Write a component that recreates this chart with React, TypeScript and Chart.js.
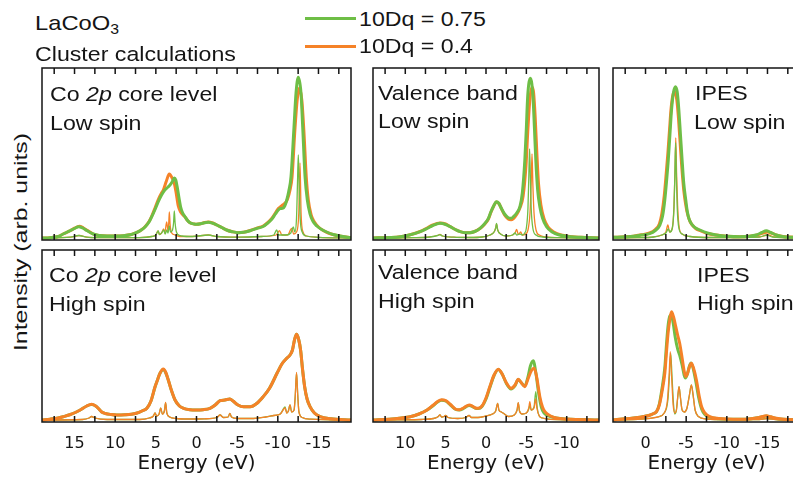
import React, { useEffect, useRef } from 'react';
import { Chart, registerables } from 'chart.js';

Chart.register(...registerables);

type Pt = [number, number];

const GREEN = '#6ebe46';
const ORANGE = '#f58228';
const INK = '#151515';

const legendLabels = ['10Dq = 0.75', '10Dq = 0.4'];
const axisTitle = 'Energy (eV)';
const yTitle = 'Intensity (arb. units)';

// ---------- Co 2p core level, low spin ----------
const coreLowGreenBroad: Pt[] = [[19,0],[18,0.3],[17,1.5],[16.4,4],[15.5,7.5],[15,9.5],[14.5,11.3],[14,10],[13.5,7.5],[12.7,4],[12,2.5],[11,2],[10,2],[9,2.3],[8,3.5],[7.4,5.3],[6.8,8],[6.3,11.3],[5.8,16.5],[5.5,21.3],[5.1,28.5],[4.7,36.3],[4.3,43],[3.9,48],[3.5,51],[3.26,53],[3.0,56],[2.73,60],[2.55,58],[2.35,50],[2.15,40],[1.95,31],[1.7,25],[1.41,21.3],[1.1,17.5],[0.8,15.3],[0.3,14],[0,13.7],[-0.5,14.2],[-1.0,15.3],[-1.45,15.7],[-2.0,14.7],[-2.5,13],[-3.1,10.5],[-3.7,8],[-4.4,6.3],[-5.1,5.3],[-5.8,5.7],[-6.6,7.3],[-7.4,9.5],[-8.2,11.5],[-8.7,14.5],[-9.25,18.7],[-9.7,24],[-10.06,28],[-10.3,29.5],[-10.6,29.7],[-10.85,32],[-11.1,38],[-11.35,47],[-11.62,61],[-11.99,111],[-12.24,145],[-12.52,160.7],[-12.85,145],[-13.06,111],[-13.35,61],[-13.63,38],[-13.96,24],[-14.3,17],[-14.8,12],[-15.4,8.5],[-16.0,6],[-16.8,3.5],[-17.65,2],[-19,0.3]];
const coreLowOrangeBroad: Pt[] = [[19,0],[18,0.3],[17,1.5],[16.4,4],[15.5,7.5],[15,9.8],[14.4,11.8],[13.9,10],[13.4,7.5],[12.7,4],[12,2.5],[11,2],[10,2],[9,2.3],[8,3.5],[7.4,5.3],[6.8,8],[6.3,11.5],[5.8,17],[5.5,22],[5.1,30],[4.7,38.5],[4.3,45],[4.08,48],[3.7,57],[3.34,64],[3.0,60],[2.73,54.7],[2.5,45],[2.24,32],[1.95,26],[1.41,21],[1.1,17.5],[0.8,15.3],[0.3,14],[0,13.7],[-0.5,14.2],[-1.0,15.5],[-1.45,16],[-2.0,15],[-2.5,13],[-3.1,10.5],[-3.7,8],[-4.4,6.3],[-5.1,5.3],[-5.8,5.7],[-6.6,7.5],[-7.4,9.8],[-8.2,12],[-8.7,15],[-9.25,19.5],[-9.7,25],[-10.06,29.5],[-10.3,31],[-10.6,33],[-10.9,35],[-11.2,39],[-11.5,48],[-11.75,61],[-12.1,108],[-12.38,138],[-12.65,150],[-12.95,138],[-13.2,108],[-13.5,61],[-13.75,38],[-14.1,23],[-14.5,16],[-15.0,11],[-15.6,7.5],[-16.2,5],[-17,3],[-17.8,1.8],[-19,0.3]];
const coreLowGreenSharp: Pt[] = [[19,0],[15.5,0.8],[14.5,2.5],[13.5,0.8],[12,0.3],[7,0.4],[5.5,1.5],[5.0,3],[4.7,7],[4.55,3.5],[4.3,5],[4.0,8],[3.85,4],[3.65,8],[3.5,5],[3.34,12],[3.2,6],[2.95,8],[2.82,15],[2.73,27],[2.63,15],[2.5,7],[2.3,3.5],[1.8,2],[0.5,1.5],[-1.45,3],[-2.5,1.5],[-5,0.8],[-8,1.5],[-9.5,3],[-9.86,8],[-10.1,3],[-11,3],[-11.6,5],[-11.9,11],[-12.1,6],[-12.3,20],[-12.42,55],[-12.52,83],[-12.62,55],[-12.75,20],[-13,6],[-13.5,2],[-15,0.7],[-19,0]];
const coreLowOrangeSharp: Pt[] = [[19,0],[15.5,0.8],[14.4,2.5],[13.5,0.8],[12,0.3],[7,0.4],[5.5,1.5],[5.0,3],[4.75,7],[4.55,3.5],[4.3,5],[4.05,9],[3.9,5],[3.67,16],[3.5,7],[3.42,14],[3.34,26],[3.25,14],[3.1,6],[2.8,3.5],[2.3,2],[1.8,1.5],[0.5,1.5],[-1.45,3],[-2.5,1.5],[-5,0.8],[-8,1.5],[-9.8,3],[-10.2,7.3],[-10.5,3],[-11.2,3],[-11.7,9.7],[-11.95,4],[-12.3,6],[-12.58,25],[-12.73,75],[-12.86,25],[-13.1,6],[-13.5,2],[-15,0.7],[-19,0]];

// ---------- Valence band, low spin ----------
const valLowGreenBroad: Pt[] = [[14,0],[12,0.5],[10.6,1.3],[9.5,3],[8.15,6.3],[7.3,9.5],[6.6,12.5],[5.7,14.7],[5,13.5],[4.44,11.3],[3.8,8.5],[3.2,6.3],[2.6,5.3],[2,5.3],[1.4,6.5],[0.74,9.7],[0.2,14],[-0.3,19.7],[-0.6,26],[-0.9,31.3],[-1.3,36.3],[-1.6,34.5],[-1.9,29.7],[-2.3,24],[-2.75,20.3],[-3.1,19.7],[-3.4,21.3],[-3.8,25],[-4.2,31.3],[-4.5,45],[-4.81,78],[-5.0,110],[-5.14,138],[-5.3,154],[-5.5,159.7],[-5.68,154],[-5.84,138],[-6.0,110],[-6.17,78],[-6.4,48],[-6.67,31.3],[-7.0,20],[-7.5,11.3],[-8.2,6],[-9.1,3],[-10.5,1.2],[-11.6,0.7],[-14,0]];
const valLowOrangeBroad: Pt[] = [[14,0],[12,0.5],[10.6,1.3],[9.5,3],[8.15,6.5],[7.3,10],[6.6,13],[5.7,15],[5,14],[4.44,11.5],[3.8,8.5],[3.2,6.3],[2.6,5.3],[2,5.3],[1.4,6.5],[0.74,9.5],[0.2,13.5],[-0.3,19],[-0.6,25.5],[-0.9,31],[-1.3,36],[-1.6,34.5],[-1.9,29.5],[-2.3,23],[-2.75,19],[-3.1,18.3],[-3.4,19.5],[-3.8,23.5],[-4.2,30],[-4.6,42],[-4.95,72],[-5.2,110],[-5.45,140],[-5.7,151],[-5.9,145],[-6.1,120],[-6.3,85],[-6.5,55],[-6.8,33],[-7.2,19],[-7.7,11],[-8.4,6],[-9.3,3],[-10.7,1.2],[-11.8,0.7],[-14,0]];
const valLowGreenSharp: Pt[] = [[14,0],[9,0.3],[7,1],[6,2.5],[5.7,3.3],[5.4,2],[4,0.8],[2,0.5],[0.5,1],[-0.5,3],[-1.0,6],[-1.2,10],[-1.3,14.7],[-1.45,8],[-1.8,4],[-2.5,2],[-3.3,3],[-3.6,5],[-3.8,3],[-4.2,4],[-4.5,3],[-4.8,5],[-5.0,10],[-5.2,30],[-5.3,60],[-5.4,89],[-5.5,60],[-5.6,30],[-5.8,10],[-6.2,3],[-7,1],[-9,0.3],[-14,0]];
const valLowOrangeSharp: Pt[] = [[14,0],[9,0.3],[7,1],[6,2.5],[5.7,3.5],[5.4,2],[4,0.8],[2,0.5],[0.5,1],[-0.5,3],[-1.0,6],[-1.2,10],[-1.3,14],[-1.45,8],[-1.8,4],[-2.5,2],[-3.3,3],[-3.6,5],[-3.8,8.7],[-4.0,3.5],[-4.3,6],[-4.5,3],[-4.9,4],[-5.2,8],[-5.45,25],[-5.6,55],[-5.7,84],[-5.8,55],[-5.95,25],[-6.2,8],[-6.6,3],[-7.5,1],[-9,0.3],[-14,0]];

// ---------- IPES, low spin ----------
const ipesLowGreenBroad: Pt[] = [[4,0.7],[2.5,1.2],[1.5,1.7],[0.5,3],[-0.5,4.3],[-1.2,7.5],[-1.75,12.7],[-2.1,22],[-2.37,38],[-2.6,58],[-2.8,78],[-3.0,103],[-3.2,128],[-3.45,146],[-3.68,151.3],[-3.9,146],[-4.1,128],[-4.3,103],[-4.5,78],[-4.7,55],[-4.95,38],[-5.15,26],[-5.4,18],[-6,11],[-6.7,8],[-7.6,5],[-8.7,3],[-10,1.8],[-11.6,1.3],[-12.8,1.8],[-13.6,3],[-14.3,5.5],[-14.85,7.3],[-15.4,5.5],[-16.1,3],[-17,1.3],[-18.1,0.7],[-19,0.5]];
const ipesLowOrangeBroad: Pt[] = [[4,0.7],[2.5,1.2],[1.5,1.8],[0.5,3.2],[-0.5,5],[-1.2,8.5],[-1.7,14],[-2.0,24],[-2.3,42],[-2.55,65],[-2.75,85],[-2.95,108],[-3.15,130],[-3.4,144],[-3.6,146],[-3.85,138],[-4.05,120],[-4.25,96],[-4.45,72],[-4.7,48],[-4.95,33],[-5.2,23],[-5.5,16],[-6.1,10],[-6.8,7],[-7.6,4.5],[-8.7,3],[-10,1.8],[-11.6,1.3],[-12.8,1.8],[-13.7,3],[-14.5,5],[-15.0,6],[-15.6,4.5],[-16.3,2.5],[-17.2,1.2],[-19,0.5]];
const ipesLowGreenSharp: Pt[] = [[4,0],[1,0.3],[-1,1],[-2,3],[-2.5,5],[-2.8,9],[-3.0,6],[-3.3,10],[-3.5,30],[-3.6,60],[-3.7,95],[-3.8,60],[-3.9,30],[-4.1,10],[-4.5,4],[-5.5,1.5],[-8,0.5],[-14,1],[-14.9,3],[-15.6,1],[-19,0]];
const ipesLowOrangeSharp: Pt[] = [[4,0],[1,0.3],[-1,1],[-2,3],[-2.5,6],[-2.75,13],[-2.95,6],[-3.3,10],[-3.5,32],[-3.62,65],[-3.72,100],[-3.82,65],[-3.95,32],[-4.15,10],[-4.5,4],[-5.5,1.5],[-8,0.5],[-14,1],[-15.1,3],[-15.8,1],[-19,0]];

// ---------- Co 2p core level, high spin ----------
const coreHighOrangeBroad: Pt[] = [[19,0],[18,0.8],[17,2],[16.4,3.3],[15.5,5.5],[14.9,7.5],[14.3,10],[13.5,14],[12.9,15.7],[12.4,14],[12,11],[11.7,8.3],[11.2,6.5],[10.5,5.5],[9.8,5],[8.8,5.2],[8,5.7],[7.4,6.7],[6.7,9],[6.1,11.7],[5.6,19],[5.1,33.3],[4.8,40],[4.5,46.7],[4.08,51],[3.8,48],[3.47,40],[3.1,30],[2.64,20],[2.1,14],[1.6,11.7],[0.8,10.3],[0,10],[-0.8,10.3],[-1.66,11.7],[-2.3,15],[-2.9,19.3],[-3.5,20],[-4.1,21],[-4.5,19],[-5.1,15],[-5.8,13.3],[-6.6,13.3],[-7.4,16.5],[-8.2,23.3],[-9.0,32],[-9.9,46.7],[-10.5,56],[-11.1,61.7],[-11.5,65],[-11.8,70],[-12.05,80],[-12.3,85.7],[-12.55,81],[-12.8,70],[-13.05,50],[-13.3,33.3],[-13.6,21],[-13.96,13.3],[-14.5,7],[-15.2,3.3],[-16.5,1.3],[-19,0]];
const coreHighGreenBroad: Pt[] = [[19,0],[18,0.8],[17,2],[16.4,3.3],[15.5,5.5],[14.9,7.5],[14.3,10],[13.5,14],[12.9,15.5],[12.4,14],[12,11],[11.7,8.3],[11.2,6.5],[10.5,5.5],[9.8,5],[8.8,5.2],[8,5.7],[7.4,6.7],[6.7,9],[6.1,11.7],[5.6,19],[5.1,33],[4.8,40],[4.5,46.5],[4.08,50.5],[3.8,47.5],[3.47,40],[3.1,30],[2.64,20],[2.1,14],[1.6,11.7],[0.8,10.3],[0,10],[-0.8,10.3],[-1.66,11.7],[-2.3,15],[-2.9,19.3],[-3.5,20],[-4.1,21],[-4.5,19],[-5.1,15],[-5.8,13.3],[-6.6,13.3],[-7.4,16.5],[-8.2,23.3],[-9.0,32],[-9.9,46.7],[-10.5,56],[-11.1,61.7],[-11.5,65],[-11.8,70],[-12.05,80],[-12.3,85.7],[-12.55,81],[-12.8,70],[-13.05,50],[-13.3,33.3],[-13.6,21],[-13.96,13.3],[-14.5,7],[-15.2,3.3],[-16.5,1.3],[-19,0]];
const coreHighOrangeSharp: Pt[] = [[19,0],[14,0.5],[13.2,2],[12.9,3.5],[12.5,2],[11,0.5],[7,0.5],[5.8,2],[5.3,4],[5.1,7],[4.9,4],[4.6,6],[4.4,12],[4.2,6],[3.95,9],[3.8,17.5],[3.65,7],[3.3,3],[2.5,1.5],[1,1],[-1,1.2],[-2.5,2.5],[-2.9,5],[-3.3,2.5],[-3.9,3],[-4.1,6.7],[-4.3,3],[-5,1.5],[-7,1.5],[-8.5,3],[-9.5,4.5],[-10.3,6],[-10.9,12],[-11.1,7],[-11.3,9],[-11.5,15],[-11.7,8],[-12.0,10],[-12.15,25],[-12.3,47.7],[-12.45,25],[-12.6,8],[-13,2.5],[-14,0.8],[-19,0]];
const coreHighGreenSharp: Pt[] = [[19,0],[14,0.5],[13.2,2],[12.9,3.5],[12.5,2],[11,0.5],[7,0.5],[5.8,2],[5.3,4],[5.1,7],[4.9,4],[4.6,6],[4.4,12],[4.2,6],[3.95,9],[3.8,17],[3.65,7],[3.3,3],[2.5,1.5],[1,1],[-1,1.2],[-2.5,2.5],[-2.9,5],[-3.3,2.5],[-3.9,3],[-4.1,6.7],[-4.3,3],[-5,1.5],[-7,1.5],[-8.5,3],[-9.5,4.5],[-10.3,6],[-10.9,13],[-11.1,7],[-11.3,9],[-11.5,15],[-11.7,8],[-12.0,10],[-12.15,25],[-12.3,47],[-12.45,25],[-12.6,8],[-13,2.5],[-14,0.8],[-19,0]];

// ---------- Valence band, high spin ----------
const valHighOrangeBroad: Pt[] = [[14,0],[12,0.8],[10.5,2],[9.4,3.3],[8.3,6],[7.3,10],[6.6,14.5],[6.0,18.5],[5.5,20.3],[5.0,19.5],[4.4,15.5],[3.8,11],[3.3,10.3],[2.8,12],[2.3,14.5],[2.06,15],[1.7,14],[1.3,12],[0.95,11.7],[0.5,14],[0.0,22],[-0.5,34],[-1.0,45],[-1.52,50.7],[-2.0,46],[-2.5,37.5],[-3.1,31.7],[-3.6,35],[-4.0,40.7],[-4.4,37],[-4.8,33.3],[-5.2,41],[-5.6,49],[-5.97,51.7],[-6.3,42],[-6.67,23.3],[-7.0,13],[-7.3,8.3],[-8,4],[-8.7,2],[-10,1],[-14,0]];
const valHighGreenBroad: Pt[] = [[14,0],[12,0.8],[10.5,2],[9.4,3.3],[8.3,6],[7.3,10],[6.6,14],[6.0,18],[5.5,19.8],[5.0,19],[4.4,15],[3.8,10.8],[3.3,10],[2.8,11.5],[2.3,14],[2.06,14.5],[1.7,13.5],[1.3,11.8],[0.95,11.5],[0.5,13.5],[0.0,21],[-0.5,33],[-1.0,44.5],[-1.52,50.5],[-2.0,46],[-2.5,37],[-3.1,31],[-3.6,34.5],[-4.0,40.5],[-4.4,37],[-4.8,34],[-5.2,43],[-5.5,54],[-5.85,59.3],[-6.2,46],[-6.5,28],[-6.85,13],[-7.2,7],[-8,3.5],[-8.7,2],[-10,1],[-14,0]];
const valHighOrangeSharp: Pt[] = [[14,0],[8,0.5],[6.5,1.5],[6.0,3],[5.7,5],[5.5,3],[5.2,3.5],[5.0,4.5],[4.7,2.5],[3.5,1.5],[2.5,2.5],[2.1,4.5],[1.8,2.5],[1.0,2.5],[0,4],[-0.8,6],[-1.2,9],[-1.44,16.7],[-1.6,10],[-1.9,8],[-2.2,6.5],[-2.8,3.5],[-3.5,5],[-3.85,10],[-4.0,17.3],[-4.15,9],[-4.5,6],[-5.0,7],[-5.3,12],[-5.43,18.3],[-5.6,10],[-5.95,12],[-6.15,21],[-6.3,12],[-6.6,4],[-7,2],[-8,0.7],[-14,0]];
const valHighGreenSharp: Pt[] = [[14,0],[8,0.5],[6.5,1.5],[6.0,3],[5.7,5],[5.5,3],[5.2,3.5],[5.0,4.5],[4.7,2.5],[3.5,1.5],[2.5,2.5],[2.1,4.5],[1.8,2.5],[1.0,2.5],[0,4],[-0.8,6],[-1.2,9],[-1.44,16.7],[-1.6,10],[-1.9,8],[-2.2,6.5],[-2.8,3.5],[-3.5,5],[-3.85,10],[-4.0,17],[-4.15,9],[-4.5,6],[-5.0,7],[-5.3,11],[-5.43,15],[-5.6,10],[-5.95,13],[-6.17,28.3],[-6.35,12],[-6.6,4],[-7,2],[-8,0.7],[-14,0]];

// ---------- IPES, high spin ----------
const ipesHighOrangeBroad: Pt[] = [[4,0],[2.5,1.2],[0.7,2.7],[-0.4,4.5],[-1.0,6.5],[-1.35,8.3],[-1.7,15],[-2.0,27],[-2.37,46.7],[-2.6,70],[-2.77,86.7],[-3.0,101],[-3.19,108.3],[-3.45,103],[-3.72,93.3],[-3.95,85],[-4.2,76.7],[-4.5,62],[-4.75,49],[-4.95,43.3],[-5.15,46],[-5.4,53],[-5.64,56.7],[-5.9,52],[-6.26,40],[-6.6,24],[-6.9,13.3],[-7.3,7],[-7.9,3.3],[-9,1.5],[-11.6,0.7],[-13,1.3],[-13.8,2.3],[-14.4,3.5],[-14.85,4.3],[-15.4,3.2],[-16.1,1.7],[-17,0.7],[-19,0]];
const ipesHighGreenBroad: Pt[] = [[4,0],[2.5,1.2],[0.7,2.7],[-0.4,4.5],[-1.0,6.5],[-1.35,8.3],[-1.7,16],[-2.0,30],[-2.37,52],[-2.6,78],[-2.8,96],[-3.0,104],[-3.17,105],[-3.4,97],[-3.65,83],[-3.95,71],[-4.2,65],[-4.5,55],[-4.75,45],[-4.9,42],[-5.15,46],[-5.4,54],[-5.6,57],[-5.85,52],[-6.2,38],[-6.55,22],[-6.9,11],[-7.3,5.5],[-7.9,2.8],[-9,1.3],[-11.6,0.7],[-13,1.3],[-13.8,2.2],[-14.4,3.3],[-14.85,4],[-15.4,3],[-16.1,1.5],[-17,0.7],[-19,0]];
const ipesHighOrangeSharp: Pt[] = [[4,0],[0.5,1],[-1.5,3],[-2.3,7],[-2.7,20],[-2.9,45],[-3.05,68.3],[-3.2,45],[-3.4,15],[-3.6,7],[-3.8,10],[-3.95,22],[-4.12,33.3],[-4.3,22],[-4.5,10],[-4.8,8],[-5.1,12],[-5.4,25],[-5.64,35],[-5.85,25],[-6.1,10],[-6.5,3.5],[-7.5,1],[-10,0.3],[-14,0.5],[-14.9,1.5],[-16,0.5],[-19,0]];
const ipesHighGreenSharp: Pt[] = [[4,0],[0.5,1],[-1.5,3],[-2.3,7],[-2.75,20],[-2.95,45],[-3.1,66.7],[-3.25,45],[-3.45,15],[-3.6,6],[-3.8,10],[-3.95,22],[-4.12,33.3],[-4.3,22],[-4.5,10],[-4.8,8],[-5.1,12],[-5.4,25],[-5.64,35],[-5.85,25],[-6.1,10],[-6.5,3.5],[-7.5,1],[-10,0.3],[-14,0.5],[-14.9,1.5],[-16,0.5],[-19,0]];

// ------------------------------------------------------------

const FONT = 'DejaVu Sans';
const LABEL_FONT = 'Liberation Sans';
const PAD = 4;
const AXIS_H = 58;
const TICK_LEN = 6;

// Frame + inward tick marks (top and bottom), placed from the x scale's own ticks.
const framePlugin = {
  id: 'frame',
  afterDraw(chart: any) {
    const { ctx, chartArea: a, scales } = chart;
    const sx = scales.x;
    ctx.save();
    ctx.strokeStyle = INK;
    ctx.lineWidth = 1.5;
    ctx.beginPath();
    for (const t of sx.ticks) {
      const px = sx.getPixelForValue(t.value);
      if (px <= a.left + 1 || px >= a.right - 1) continue;
      ctx.moveTo(px, a.bottom);
      ctx.lineTo(px, a.bottom - TICK_LEN);
      ctx.moveTo(px, a.top);
      ctx.lineTo(px, a.top + TICK_LEN);
    }
    ctx.stroke();
    ctx.strokeRect(a.left, a.top, a.right - a.left, a.bottom - a.top);
    ctx.restore();
  },
};

const tickFmt = (v: number | string) => {
  const n = Number(v);
  const q = n / 5;
  return Math.abs(q - Math.round(q)) < 1e-6 ? String(Math.round(n)) : '';
};

interface Series { data: Pt[]; color: string; broad: boolean; }
interface PanelProps {
  left: number; top: number; width: number; height: number;
  xMin: number; xMax: number; showAxis: boolean; series: Series[];
}

function Panel({ left, top, width, height, xMin, xMax, showAxis, series }: PanelProps) {
  const ref = useRef<HTMLCanvasElement>(null);
  const cw = width + PAD * 2;
  const ch = height + PAD * 2 + (showAxis ? AXIS_H : 0);
  useEffect(() => {
    if (!ref.current) return;
    const chart = new Chart(ref.current, {
      type: 'line',
      data: {
        datasets: series.map((s) => ({
          data: s.data.map(([x, y]) => ({ x, y })),
          borderColor: s.color,
          backgroundColor: s.color,
          borderWidth: s.broad ? 3 : 1.3,
          pointRadius: 0,
          fill: false,
          cubicInterpolationMode: 'monotone' as const,
          borderJoinStyle: 'round' as const,
        })),
      },
      options: {
        animation: false,
        responsive: false,
        devicePixelRatio: 1,
        events: [],
        layout: { padding: PAD },
        plugins: { legend: { display: false }, tooltip: { enabled: false } },
        scales: {
          x: {
            type: 'linear', min: xMin, max: xMax, reverse: true, position: 'bottom',
            afterFit: (s: any) => { s.height = showAxis ? AXIS_H : 0; },
            ticks: {
              display: showAxis, stepSize: 2.5, autoSkip: false, includeBounds: false, maxRotation: 0,
              padding: 12, color: INK, font: { family: FONT, size: 16 }, callback: tickFmt,
            },
            grid: { display: false, drawTicks: false },
            border: { display: false },
            title: { display: showAxis, text: axisTitle, color: INK, font: { family: FONT, size: 20 }, padding: { top: 0, bottom: 4 } },
          },
          y: { display: false, min: -2, max: 170 },
        },
      } as any,
      plugins: [framePlugin],
    });
    return () => chart.destroy();
  }, []);
  return (
    <canvas
      ref={ref}
      width={cw}
      height={ch}
      style={{ position: 'absolute', left: left - PAD, top: top - PAD, width: cw, height: ch }}
    />
  );
}

function Label({ x, baseline, size = 20.5, children }: { x: number; baseline: number; size?: number; children: React.ReactNode }) {
  return (
    <div
      style={{
        position: 'absolute', left: x, top: baseline - 0.8465 * size, fontSize: size, lineHeight: `${size}px`,
        fontFamily: LABEL_FONT, whiteSpace: 'nowrap', color: INK,
        transform: 'scaleX(1.13)', transformOrigin: 'left center',
      }}
    >
      {children}
    </div>
  );
}

const gOnTop = (gb: Pt[], gs: Pt[], ob: Pt[], os: Pt[]): Series[] => [
  { data: gb, color: GREEN, broad: true },
  { data: gs, color: GREEN, broad: false },
  { data: ob, color: ORANGE, broad: true },
  { data: os, color: ORANGE, broad: false },
];
const oOnTop = (gb: Pt[], gs: Pt[], ob: Pt[], os: Pt[]): Series[] => [
  { data: ob, color: ORANGE, broad: true },
  { data: os, color: ORANGE, broad: false },
  { data: gb, color: GREEN, broad: true },
  { data: gs, color: GREEN, broad: false },
];

export default function App() {
  return (
    <div style={{ position: 'absolute', left: 0, top: 0, width: 793, height: 484, overflow: 'hidden', background: '#fff' }}>
      <Panel left={42} top={68} width={309} height={172} xMin={-19} xMax={19} showAxis={false}
        series={gOnTop(coreLowGreenBroad, coreLowGreenSharp, coreLowOrangeBroad, coreLowOrangeSharp)} />
      <Panel left={373} top={68} width={226} height={172} xMin={-14} xMax={14} showAxis={false}
        series={gOnTop(valLowGreenBroad, valLowGreenSharp, valLowOrangeBroad, valLowOrangeSharp)} />
      <Panel left={613} top={68} width={187} height={172} xMin={-19} xMax={4} showAxis={false}
        series={gOnTop(ipesLowGreenBroad, ipesLowGreenSharp, ipesLowOrangeBroad, ipesLowOrangeSharp)} />
      <Panel left={42} top={250} width={309} height={172} xMin={-19} xMax={19} showAxis={true}
        series={oOnTop(coreHighGreenBroad, coreHighGreenSharp, coreHighOrangeBroad, coreHighOrangeSharp)} />
      <Panel left={373} top={250} width={226} height={172} xMin={-14} xMax={14} showAxis={true}
        series={oOnTop(valHighGreenBroad, valHighGreenSharp, valHighOrangeBroad, valHighOrangeSharp)} />
      <Panel left={613} top={250} width={187} height={172} xMin={-19} xMax={4} showAxis={true}
        series={oOnTop(ipesHighGreenBroad, ipesHighGreenSharp, ipesHighOrangeBroad, ipesHighOrangeSharp)} />

      <Label x={35} baseline={29.3} size={21}>
        LaCoO<span style={{ fontSize: 14, position: 'relative', top: 4 }}>3</span>
      </Label>
      <Label x={35} baseline={61}>Cluster calculations</Label>

      <div style={{ position: 'absolute', left: 305, top: 17, width: 51, height: 2.5, background: GREEN }} />
      <div style={{ position: 'absolute', left: 305, top: 45, width: 51, height: 2.5, background: ORANGE }} />
      <Label x={359} baseline={26}>{legendLabels[0]}</Label>
      <Label x={359} baseline={53.3}>{legendLabels[1]}</Label>

      <Label x={50} baseline={101.7}>Co <i>2p</i> core level</Label>
      <Label x={50} baseline={130.3}>Low spin</Label>
      <Label x={378} baseline={100.5}>Valence band</Label>
      <Label x={378} baseline={128.3}>Low spin</Label>
      <Label x={695} baseline={100.7}>IPES</Label>
      <Label x={694} baseline={129.3}>Low spin</Label>

      <Label x={49} baseline={282.7}>Co <i>2p</i> core level</Label>
      <Label x={49} baseline={311}>High spin</Label>
      <Label x={378} baseline={279.3}>Valence band</Label>
      <Label x={378} baseline={308.3}>High spin</Label>
      <Label x={697} baseline={282.7}>IPES</Label>
      <Label x={697} baseline={310.7}>High spin</Label>

      <div
        style={{
          position: 'absolute', left: 21, top: 242, fontSize: 18, lineHeight: '18px', fontFamily: LABEL_FONT,
          whiteSpace: 'nowrap', color: INK, transform: 'translate(-50%, -50%) rotate(-90deg) scaleX(1.38)',
        }}
      >
        {yTitle}
      </div>
    </div>
  );
}
